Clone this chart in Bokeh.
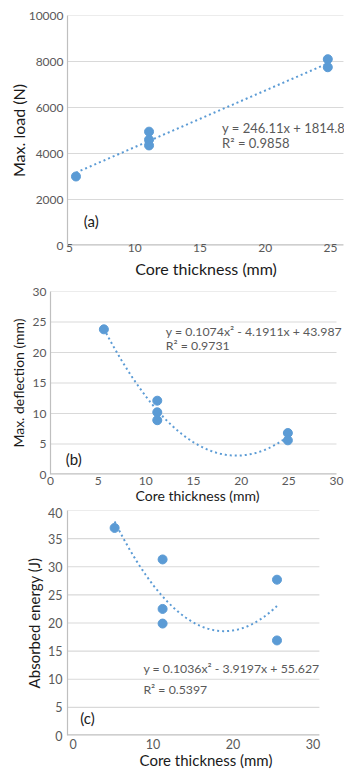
import numpy as np
from bokeh.plotting import figure
from bokeh.layouts import column, row
from bokeh.models import ColumnDataSource, Label
from bokeh.embed import file_html
from bokeh.resources import INLINE

# ---------------- data ----------------
# Panel (a): max load vs core thickness
a_thickness = [5.5, 11.1, 11.1, 11.1, 24.8, 24.8]
a_load = [3000, 4950, 4600, 4350, 8100, 7750]
a_coef = [246.11, 1814.8]
a_eq = "y = 246.11x + 1814.8"
a_r2 = "R\u00b2 = 0.9858"
a_xticks = [5, 10, 15, 20, 25]
a_yticks = [0, 2000, 4000, 6000, 8000, 10000]

# Panel (b): max deflection vs core thickness
b_thickness = [5.6, 11.2, 11.2, 11.2, 24.9, 24.9]
b_deflection = [23.8, 12.1, 10.2, 8.9, 6.8, 5.6]
b_coef = [0.1074, -4.1911, 43.987]
b_eq = "y = 0.1074x\u00b2 - 4.1911x + 43.987"
b_r2 = "R\u00b2 = 0.9731"
b_xticks = [0, 5, 10, 15, 20, 25, 30]
b_yticks = [0, 5, 10, 15, 20, 25, 30]

# Panel (c): absorbed energy vs core thickness
c_thickness = [5.2, 11.2, 11.2, 11.2, 25.5, 25.5]
c_energy = [36.9, 31.3, 22.5, 19.9, 27.7, 16.9]
c_coef = [0.1036, -3.9197, 55.627]
c_eq = "y = 0.1036x\u00b2 - 3.9197x + 55.627"
c_r2 = "R\u00b2 = 0.5397"
c_xticks = [0, 10, 20, 30]
c_yticks = [0, 5, 10, 15, 20, 25, 30, 35, 40]

x_label = "Core thickness (mm)"

FONT = "Lato"
BLUE = "#5b9bd5"
GRID = "#d9d9d9"
AXIS = "#bfbfbf"
TICK_TXT = "#595959"
LABEL_TXT = "#1a1a1a"


def make_panel(xs, ys, coef, eq, r2, tag, ylabel, xticks, yticks,
               x_range, grid_end, y_range, height, borders, eq_pos, r2_pos,
               tag_pos, tick_fs, label_fs, eq_fs, x_tick_standoff,
               x_label_standoff, y_tick_standoff, y_label_standoff):
    left, right, top, bottom = borders
    p = figure(width=344, height=height, x_range=x_range, y_range=y_range,
               output_backend="svg", toolbar_location=None,
               min_border_left=left, min_border_right=right,
               min_border_top=top, min_border_bottom=bottom)
    p.outline_line_color = None
    p.xgrid.grid_line_color = None
    p.ygrid.grid_line_color = None
    p.xaxis.ticker = xticks
    p.yaxis.ticker = yticks
    for ax in (p.xaxis, p.yaxis):
        ax.axis_line_color = AXIS
        ax.axis_line_width = 1.2
        ax.major_tick_line_color = None
        ax.minor_tick_line_color = None
        ax.major_tick_out = 0
        ax.major_tick_in = 0
        ax.minor_tick_out = 0
        ax.minor_tick_in = 0
        ax.major_label_text_color = TICK_TXT
        ax.major_label_text_font = FONT
        ax.major_label_text_font_size = tick_fs
        ax.axis_label_text_font = FONT
        ax.axis_label_text_font_style = "normal"
        ax.axis_label_text_color = LABEL_TXT
        ax.axis_label_text_font_size = label_fs
    p.xaxis.axis_line_color = None
    p.xaxis.axis_label = x_label
    p.yaxis.axis_label = ylabel
    p.xaxis.major_label_standoff = x_tick_standoff
    p.xaxis.axis_label_standoff = x_label_standoff
    p.yaxis.major_label_standoff = y_tick_standoff
    p.yaxis.axis_label_standoff = y_label_standoff

    # horizontal gridlines, ending where the reference's plot area ends
    n = len(yticks)
    grid_y = yticks[1:]
    p.segment(x0=[x_range[0]] * (n - 1), y0=grid_y, x1=[grid_end] * (n - 1),
              y1=grid_y, line_color=GRID, line_width=1.2)
    # bottom axis line
    p.segment(x0=[x_range[0]], y0=[y_range[0]], x1=[grid_end], y1=[y_range[0]],
              line_color=AXIS, line_width=2.6)

    # trendline from the displayed equation, over the data's x span
    tx = np.linspace(min(xs), max(xs), 200)
    ty = np.polyval(coef, tx)
    p.line(tx, ty, line_color=BLUE, line_width=2, line_dash="2 3")

    src = ColumnDataSource(dict(x=xs, y=ys))
    p.scatter("x", "y", source=src, size=9, fill_color=BLUE, line_color=BLUE)

    for txt, pos in ((eq, eq_pos), (r2, r2_pos)):
        p.add_layout(Label(x=pos[0], y=pos[1], text=txt, text_font=FONT,
                           text_font_size=eq_fs, text_color=TICK_TXT,
                           text_baseline="middle", text_align="left"))
    p.add_layout(Label(x=tag_pos[0], y=tag_pos[1], text=tag, text_font=FONT,
                       text_font_size="15px", text_color=LABEL_TXT,
                       text_baseline="middle", text_align="center"))
    return p


pa = make_panel(a_thickness, a_load, a_coef, a_eq, a_r2, "(a)", "Max. load (N)",
                a_xticks, a_yticks, (4.85, 26.08), 26.0, (0, 10000), 280,
                (67, 0, 15, 35), (16.7, 5130), (16.7, 4450), (6.67, 1060),
                "12px", "16px", "13px", -2, 4, 4, -2)

pb = make_panel(b_thickness, b_deflection, b_coef, b_eq, b_r2, "(b)",
                "Max. deflection (mm)", b_xticks, b_yticks, (0, 30.84), 30.0,
                (0, 30), 227,
                (50, 0, 11, 33), (12.1, 23.4), (12.1, 21.1), (2.45, 2.6),
                "12px", "14px", "12.3px", 2, -1, 4, 3)

pc = make_panel(c_thickness, c_energy, c_coef, c_eq, c_r2, "(c)",
                "Absorbed energy (J)", c_xticks, c_yticks, (-0.69, 33.94), 30.8,
                (0, 40), 264,
                (67, 0, 3, 36), (8.8, 11.9), (8.8, 8.1), (1.8, 3.2),
                "12.5px", "15px", "12.3px", 3, -1, 5, 2)

# each panel in its own row box, so the plot frames are not aligned together
layout = column(row(pa), row(pb), row(pc), spacing=0)
open("out.html", "w").write(file_html(layout, INLINE))
